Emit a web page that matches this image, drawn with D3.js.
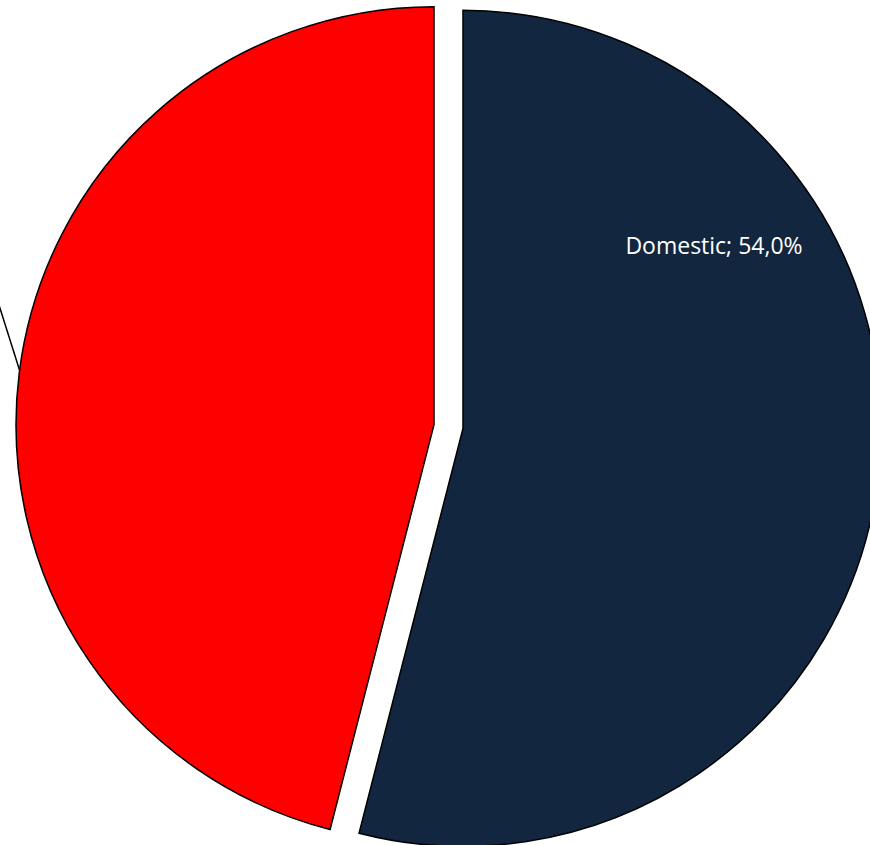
<!DOCTYPE html>
<html><head><meta charset="utf-8">
<script src="https://cdn.jsdelivr.net/npm/d3@7"></script>
<style>html,body{margin:0;padding:0;background:#fff;overflow:hidden}</style>
</head><body>
<script>
const categories = ["Domestic", ""];
const values = [54.0, 46.0];
const colors = ["#12263F", "#FF0000"];
const labels = ["Domestic; 54,0%", ""];

const W = 870, H = 845;
const cx = 448.5, cy = 426.5, R = 418, explode = 14.6;
const svg = d3.select("body").append("svg").attr("width", W).attr("height", H);
const pie = d3.pie().sort(null).value(d => d)(values);
const arc = d3.arc().innerRadius(0).outerRadius(R);
const g = svg.append("g").attr("transform", `translate(${cx},${cy})`);

pie.forEach((p, i) => {
  const mid = (p.startAngle + p.endAngle) / 2;
  const dx = Math.sin(mid) * explode, dy = -Math.cos(mid) * explode;
  const sg = g.append("g").attr("transform", `translate(${dx},${dy})`);
  sg.append("path").attr("d", arc(p)).attr("fill", colors[i])
    .attr("stroke", "#000").attr("stroke-width", 1.5).attr("stroke-linejoin", "miter");
  if (i === 0) {
    sg.append("text").attr("x", 714 - cx - dx).attr("y", 254 - cy - dy)
      .attr("text-anchor", "middle").attr("fill", "#fff")
      .attr("font-family", "'Open Sans', sans-serif").attr("font-size", 23)
      .text(labels[i]);
  } else {
    // leader line toward label placed outside the visible area
    const a = 4.843;
    const x1 = Math.sin(a) * R, y1 = -Math.cos(a) * R;
    sg.append("line").attr("x1", x1).attr("y1", y1)
      .attr("x2", x1 - 36).attr("y2", y1 - 114)
      .attr("stroke", "#000").attr("stroke-width", 1.5);
  }
});
</script>
</body></html>
